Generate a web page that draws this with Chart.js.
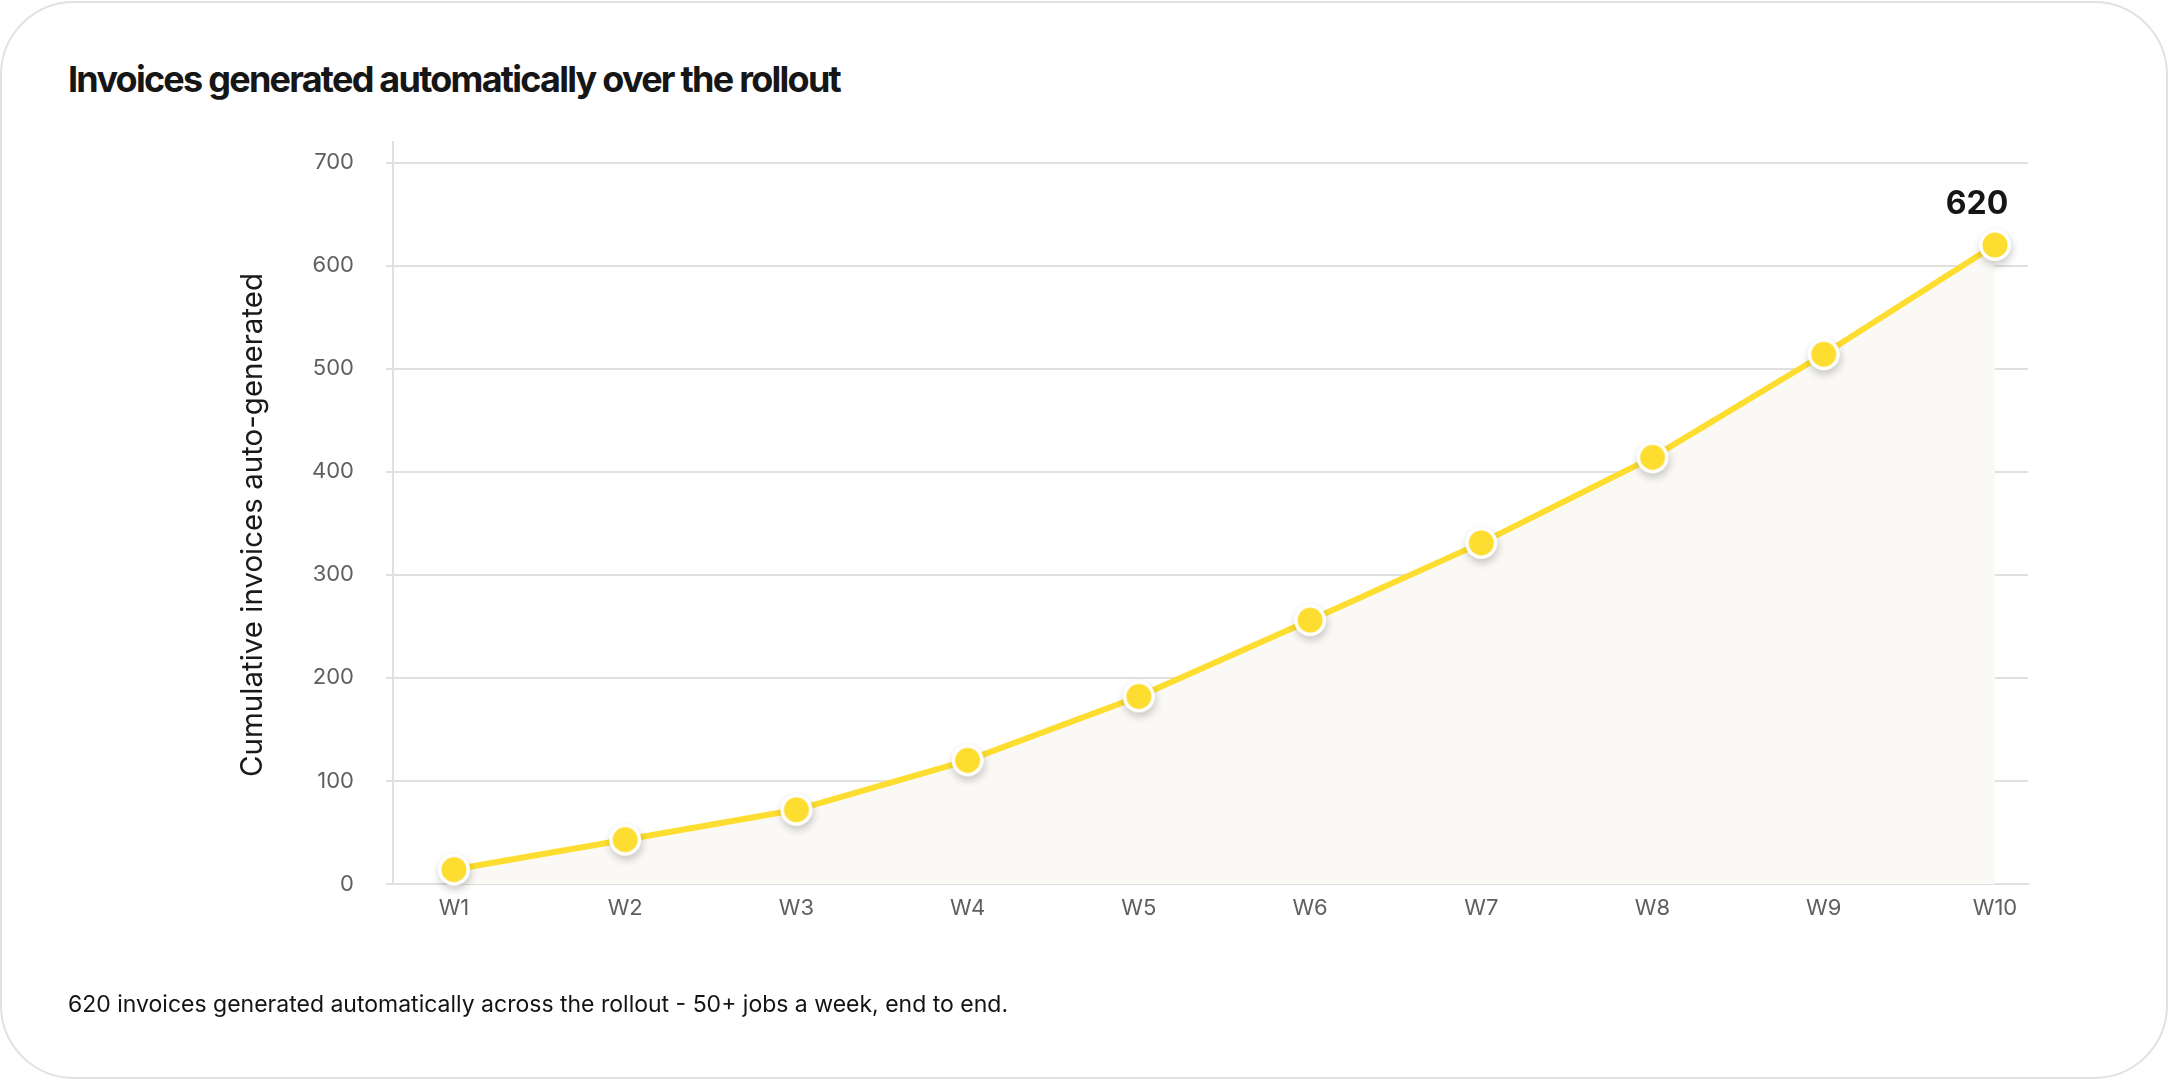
<!DOCTYPE html>
<html>
<head>
<meta charset="utf-8">
<title>Invoices generated automatically over the rollout</title>
<script src="https://cdn.jsdelivr.net/npm/chart.js@4.4.1/dist/chart.umd.min.js"></script>
<style>
  html, body { margin: 0; padding: 0; background: #fff; }
  body { width: 2168px; height: 1080px; position: relative; overflow: hidden; font-family: Inter, "Noto Sans", sans-serif; }
  .card { position: absolute; left: 0; top: 1px; width: 2168px; height: 1078px; box-sizing: border-box; border: 2px solid #e1e1e1; border-radius: 74px; background: #fff; }
  .title { position: absolute; left: 68px; top: 61px; margin: 0; font-size: 36px; line-height: 36px; font-weight: 700; letter-spacing: -1.75px; color: #161616; white-space: nowrap; }
  .caption { position: absolute; left: 68px; top: 993px; margin: 0; font-size: 23px; line-height: 23px; color: #141414; white-space: nowrap; }
  .wrap { position: absolute; left: 0; top: 0; width: 2168px; height: 1080px; }
</style>
</head>
<body>
<div class="card"></div>
<h1 class="title">Invoices generated automatically over the rollout</h1>
<div class="wrap"><canvas id="chart"></canvas></div>
<p class="caption">620 invoices generated automatically across the rollout - 50+ jobs a week, end to end.</p>
<script>
// weeks of the rollout and cumulative invoices auto-generated
var weeks = ['W1', 'W2', 'W3', 'W4', 'W5', 'W6', 'W7', 'W8', 'W9', 'W10'];
var invoices = [14, 43, 72, 120, 182, 256, 331, 414, 514, 620];
var yTicks = [0, 100, 200, 300, 400, 500, 600, 700];
var yTitle = 'Cumulative invoices auto-generated';

var yellow = '#FDDD2F';
var gridGrey = '#e0e0e0';

// dot with white ring and soft shadow, used as the point style
function makeDot() {
    var c = document.createElement('canvas');
    c.width = 64; c.height = 64;
    var g = c.getContext('2d');
    g.shadowColor = 'rgba(0,0,0,0.22)';
    g.shadowBlur = 8;
    g.shadowOffsetX = 1;
    g.shadowOffsetY = 4;
    g.fillStyle = '#fff';
    g.beginPath(); g.arc(32, 32, 16, 0, Math.PI * 2); g.fill();
    g.shadowColor = 'transparent';
    g.fillStyle = yellow;
    g.beginPath(); g.arc(32, 32, 12.5, 0, Math.PI * 2); g.fill();
    return c;
}

// bold value above the last point, and the rotated y axis title
var labels = {
    id: 'labels',
    afterDatasetsDraw: function(chart) {
        var meta = chart.getDatasetMeta(0);
        var last = meta.data[meta.data.length - 1];
        var ctx = chart.ctx;
        ctx.save();
        ctx.font = '700 32px Inter';
        ctx.fillStyle = '#161616';
        ctx.textAlign = 'center';
        ctx.textBaseline = 'alphabetic';
        ctx.fillText(String(invoices[invoices.length - 1]), last.x - 18, last.y - 31);
        ctx.restore();

        ctx.save();
        ctx.translate(253, 525);
        ctx.rotate(-Math.PI / 2);
        ctx.font = '400 29.5px Inter';
        ctx.fillStyle = '#1a1a1a';
        ctx.textAlign = 'center';
        ctx.textBaseline = 'middle';
        ctx.fillText(yTitle, 0, 0);
        ctx.restore();
    }
};

var ctx = document.getElementById('chart').getContext('2d');
new Chart(ctx, {
    type: 'line',
    data: {
        datasets: [{
            label: 'Cumulative invoices',
            data: invoices.map(function(v, i) { return { x: i, y: v }; }),
            borderColor: yellow,
            borderWidth: 6,
            backgroundColor: '#FAF9F5',
            fill: 'origin',
            tension: 0,
            pointStyle: makeDot(),
            pointRadius: 14,
            pointHoverRadius: 14,
            clip: false
        }]
    },
    options: {
        responsive: true,
        maintainAspectRatio: false,
        animation: false,
        layout: { padding: { left: 220, top: 142, right: 140, bottom: 136 } },
        plugins: { legend: { display: false }, tooltip: { enabled: false } },
        scales: {
            x: {
                type: 'linear',
                min: -0.356,
                max: 9.193,
                afterBuildTicks: function(axis) {
                    axis.ticks = weeks.map(function(w, i) { return { value: i }; });
                },
                afterFit: function(scale) { scale.height = 60; },
                grid: { display: false, drawTicks: false },
                border: { display: true, color: gridGrey, width: 2 },
                ticks: {
                    padding: 11,
                    color: '#5f5f5f',
                    font: { family: 'Inter', size: 22 },
                    callback: function(v) { return weeks[v]; }
                }
            },
            y: {
                min: 0,
                max: 720,
                afterBuildTicks: function(axis) {
                    axis.ticks = yTicks.map(function(v) { return { value: v }; });
                },
                afterFit: function(scale) { scale.width = 173; },
                grid: { color: gridGrey, lineWidth: 2, drawTicks: true, tickLength: 7 },
                border: { display: true, color: gridGrey, width: 2 },
                ticks: {
                    padding: 32,
                    color: '#5f5f5f',
                    font: { family: 'Inter', size: 22 }
                }
            }
        }
    },
    plugins: [labels]
});
</script>
</body>
</html>
